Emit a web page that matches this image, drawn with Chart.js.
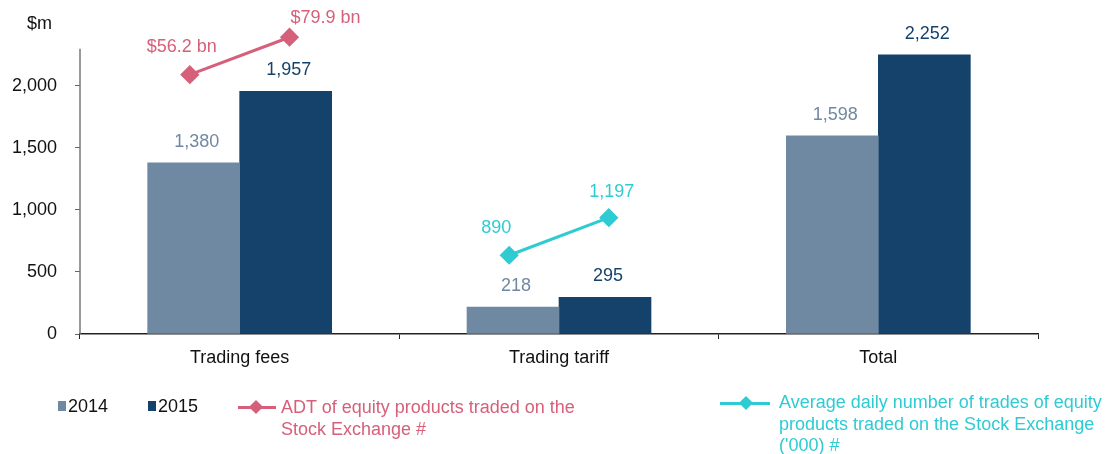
<!DOCTYPE html>
<html>
<head>
<meta charset="utf-8">
<script src="https://cdn.jsdelivr.net/npm/chart.js@4.4.1/dist/chart.umd.min.js"></script>
<style>
  html, body { margin: 0; padding: 0; background: #fff; }
  body { width: 1116px; height: 454px; position: relative; overflow: hidden;
         font-family: 'Liberation Sans', Arial, sans-serif; font-size: 18px; }
  #wrap { position: absolute; left: 0; top: 0; width: 1116px; height: 454px; }
  .unit { position: absolute; left: 27px; top: 13px; color: #111; }
  .lg { position: absolute; line-height: 22px; }
  .sw { position: absolute; width: 8px; height: 10px; }
  .ln { position: absolute; height: 3px; }
  .dm { position: absolute; width: 10px; height: 10px; transform: rotate(45deg); }
</style>
</head>
<body>
<div id="wrap"><canvas id="chart" width="1116" height="454"></canvas></div>
<div class="unit">$m</div>

<div class="sw" style="left:58px;top:401px;background:#7089a3"></div>
<div class="lg" style="left:68px;top:395px;color:#111">2014</div>
<div class="sw" style="left:148px;top:401px;background:#15426a"></div>
<div class="lg" style="left:158px;top:395px;color:#111">2015</div>

<div class="ln" style="left:238px;top:406px;width:38px;background:#d6607a"></div>
<div class="dm" style="left:251px;top:402px;background:#d6607a"></div>
<div class="lg" style="left:281px;top:396px;color:#d6607a">ADT of equity products traded on the<br>Stock Exchange #</div>

<div class="ln" style="left:720px;top:402px;width:50px;background:#2ecbd3"></div>
<div class="dm" style="left:741px;top:398px;background:#2ecbd3"></div>
<div class="lg" style="left:779px;top:392px;line-height:21.5px;color:#2ecbd3">Average daily number of trades of equity<br>products traded on the Stock Exchange<br>('000) #</div>

<script>
const categories = ['Trading fees', 'Trading tariff', 'Total'];
const revenue2014 = [1380, 218, 1598];
const revenue2015 = [1957, 295, 2252];
const yTickValues = [0, 500, 1000, 1500, 2000];
const yAxisTop = 2300;

// lines sit over one category each (2014 point, 2015 point)
const adtCategory = 0;
const adtValues = [56.2, 79.9];
const adtLabels = ['$56.2 bn', '$79.9 bn'];
const tradesCategory = 1;
const tradesValues = [890, 1197];
const tradesLabels = ['890', '1,197'];

const C2014 = '#7089a3';
const C2015 = '#15426a';
const PINK = '#d6607a';
const CYAN = '#2ecbd3';
const LINE_SHIFT = 0.156;

function linePoints(cat, values) {
    return values.map((v, i) => ({ x: cat + (i === 0 ? -LINE_SHIFT : LINE_SHIFT), y: v }));
}

const fmt = n => n.toLocaleString('en-US');

const valueLabels = {
    id: 'valueLabels',
    beforeDatasetsDraw(chart) {
        // y axis line only runs up to 2,300
        const y = chart.scales.y;
        const ctx = chart.ctx;
        ctx.save();
        ctx.strokeStyle = '#777';
        ctx.lineWidth = 1.5;
        ctx.beginPath();
        ctx.moveTo(y.right, y.getPixelForValue(0));
        ctx.lineTo(y.right, y.getPixelForValue(yAxisTop));
        ctx.stroke();
        ctx.restore();
    },
    afterDatasetsDraw(chart) {
        const ctx = chart.ctx;
        ctx.save();
        ctx.font = "18px 'Liberation Sans', Arial, sans-serif";
        ctx.textAlign = 'center';
        ctx.textBaseline = 'middle';
        chart.data.datasets.forEach((ds, di) => {
            const meta = chart.getDatasetMeta(di);
            meta.data.forEach((el, i) => {
                ctx.fillStyle = ds.labelColor;
                if (ds.type === 'line') {
                    const off = ds.labelOffsets[i];
                    ctx.fillText(ds.pointLabels[i], el.x + off[0], el.y + off[1]);
                } else {
                    ctx.fillText(fmt(ds.data[i]), el.x + 3, el.y - 21);
                }
            });
        });
        ctx.restore();
    }
};

const ctx = document.getElementById('chart').getContext('2d');
Chart.defaults.font.family = "'Liberation Sans', Arial, sans-serif";
Chart.defaults.font.size = 18;
Chart.defaults.color = '#111';

new Chart(ctx, {
    type: 'bar',
    data: {
        labels: categories,
        datasets: [{
            type: 'line',
            label: 'ADT of equity products traded on the Stock Exchange #',
            data: linePoints(adtCategory, adtValues),
            xAxisID: 'xl',
            yAxisID: 'yAdt',
            borderColor: PINK,
            backgroundColor: PINK,
            borderWidth: 3,
            pointStyle: 'rectRot',
            pointRadius: 7.5,
            clip: false,
            order: 0,
            labelColor: PINK,
            pointLabels: adtLabels,
            labelOffsets: [[-8, -28], [36, -19]]
        }, {
            type: 'line',
            label: "Average daily number of trades of equity products traded on the Stock Exchange ('000) #",
            data: linePoints(tradesCategory, tradesValues),
            xAxisID: 'xl',
            yAxisID: 'yTrades',
            borderColor: CYAN,
            backgroundColor: CYAN,
            borderWidth: 3,
            pointStyle: 'rectRot',
            pointRadius: 7.5,
            clip: false,
            order: 0,
            labelColor: CYAN,
            pointLabels: tradesLabels,
            labelOffsets: [[-13, -27], [3, -26]]
        }, {
            label: '2014',
            data: revenue2014,
            backgroundColor: C2014,
            barThickness: 92,
            order: 1,
            labelColor: C2014
        }, {
            label: '2015',
            data: revenue2015,
            backgroundColor: C2015,
            barThickness: 92,
            order: 1,
            labelColor: C2015
        }]
    },
    options: {
        responsive: false,
        animation: false,
        layout: { padding: { top: 20, right: 78, left: 0, bottom: 0 } },
        plugins: { legend: { display: false }, tooltip: { enabled: false } },
        scales: {
            x: {
                offset: true,
                grid: { display: true, offset: true, drawOnChartArea: false, drawTicks: true,
                        tickLength: 5, color: '#222' },
                border: { display: true, color: '#222', width: 1.5 },
                ticks: { padding: 8, color: '#111' },
                afterFit: s => { s.height = 120; }
            },
            xl: { type: 'linear', display: false, offset: false, min: -0.5, max: 2.5,
                  grid: { offset: false } },
            y: {
                min: 0,
                max: 2532,
                afterBuildTicks: s => { s.ticks = yTickValues.map(v => ({ value: v })); },
                ticks: { padding: 18, color: '#111', callback: v => fmt(v) },
                grid: { display: true, drawOnChartArea: false, drawTicks: true, tickLength: 5, color: '#666' },
                border: { display: false },
                afterFit: s => { s.width = 80; s.paddingTop = 0; s.paddingBottom = 0; }
            },
            yAdt: { display: false, min: -107.9, max: 90.8 },
            yTrades: { display: false, min: 246.6, max: 2812 }
        }
    },
    plugins: [valueLabels]
});
</script>
</body>
</html>
